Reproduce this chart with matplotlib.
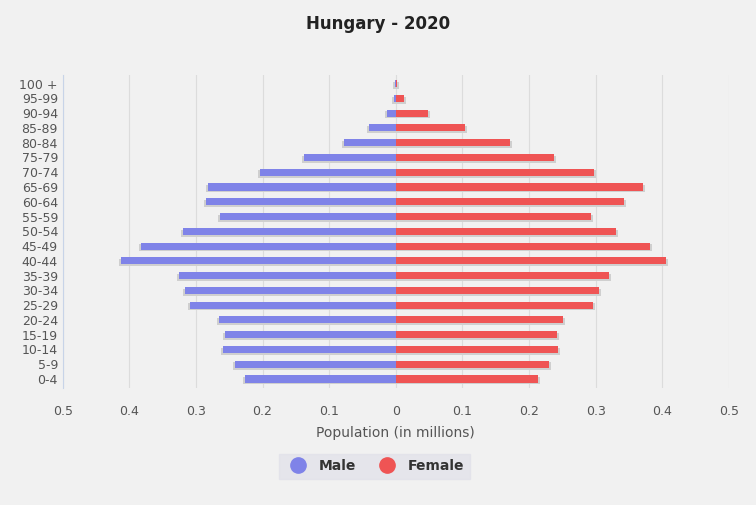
import matplotlib.pyplot as plt
import numpy as np
from matplotlib.lines import Line2D

ages = ["0-4", "5-9", "10-14", "15-19", "20-24", "25-29", "30-34", "35-39", "40-44",
        "45-49", "50-54", "55-59", "60-64", "65-69", "70-74", "75-79", "80-84",
        "85-89", "90-94", "95-99", "100 +"]
male = [0.226, 0.242, 0.259, 0.257, 0.266, 0.309, 0.316, 0.325, 0.413, 0.383, 0.319,
        0.264, 0.285, 0.282, 0.204, 0.138, 0.077, 0.040, 0.013, 0.003, 0.0005]
female = [0.214, 0.230, 0.244, 0.242, 0.251, 0.296, 0.305, 0.320, 0.406, 0.382, 0.330,
          0.293, 0.342, 0.371, 0.297, 0.238, 0.171, 0.104, 0.048, 0.013, 0.002]
ticks = [-0.5, -0.4, -0.3, -0.2, -0.1, 0, 0.1, 0.2, 0.3, 0.4, 0.5]

male_c = "#7f83e8"
female_c = "#ef5454"

fig = plt.figure(figsize=(7.56, 5.05), dpi=100, facecolor="#f1f1f1")
ax = fig.add_axes([0.083, 0.232, 0.881, 0.62])
ax.set_facecolor("#f1f1f1")

y = np.arange(len(ages))
m = -np.array(male)
f = np.array(female)
# shadows
ax.barh(y - 0.12, m - 0.003, height=0.48, color="#cfcfcf", zorder=2)
ax.barh(y - 0.12, f + 0.003, height=0.48, color="#cfcfcf", zorder=2)
ax.barh(y, m, height=0.48, color=male_c, zorder=3)
ax.barh(y, f, height=0.48, color=female_c, zorder=3)

ax.set_xlim(-0.5, 0.5)
ax.set_ylim(-0.6, len(ages) - 0.4)
ax.set_xticks(ticks)
ax.set_xticklabels([str(abs(t)) if t != 0 else "0" for t in ticks])
ax.set_yticks(y)
ax.set_yticklabels(ages)
ax.tick_params(length=0, labelsize=9, colors="#555555")
ax.tick_params(axis="x", pad=12)
ax.grid(axis="x", color="#dcdcdc", lw=0.8, zorder=0)
for s in ["top", "right", "bottom"]:
    ax.spines[s].set_visible(False)
ax.spines["left"].set_color("#c8d4e8")
ax.set_xlabel("Population (in millions)", fontsize=10, color="#555555", labelpad=6)

fig.suptitle("Hungary - 2020", y=0.97, fontsize=12, fontweight="bold", color="#222222")

handles = [Line2D([], [], marker="o", ls="", ms=11, color=male_c, label="Male"),
           Line2D([], [], marker="o", ls="", ms=11, color=female_c, label="Female")]
leg = fig.legend(handles=handles, loc="center", bbox_to_anchor=(0.495, 0.077), ncol=2,
                 frameon=True, fancybox=False, handletextpad=0.5, columnspacing=1.2,
                 prop={"weight": "bold", "size": 10})
leg.get_frame().set_facecolor("#e2e2ea")
leg.get_frame().set_edgecolor("#e2e2ea")
for t in leg.get_texts():
    t.set_color("#333333")

fig.savefig("out.png", dpi=100, facecolor=fig.get_facecolor())
